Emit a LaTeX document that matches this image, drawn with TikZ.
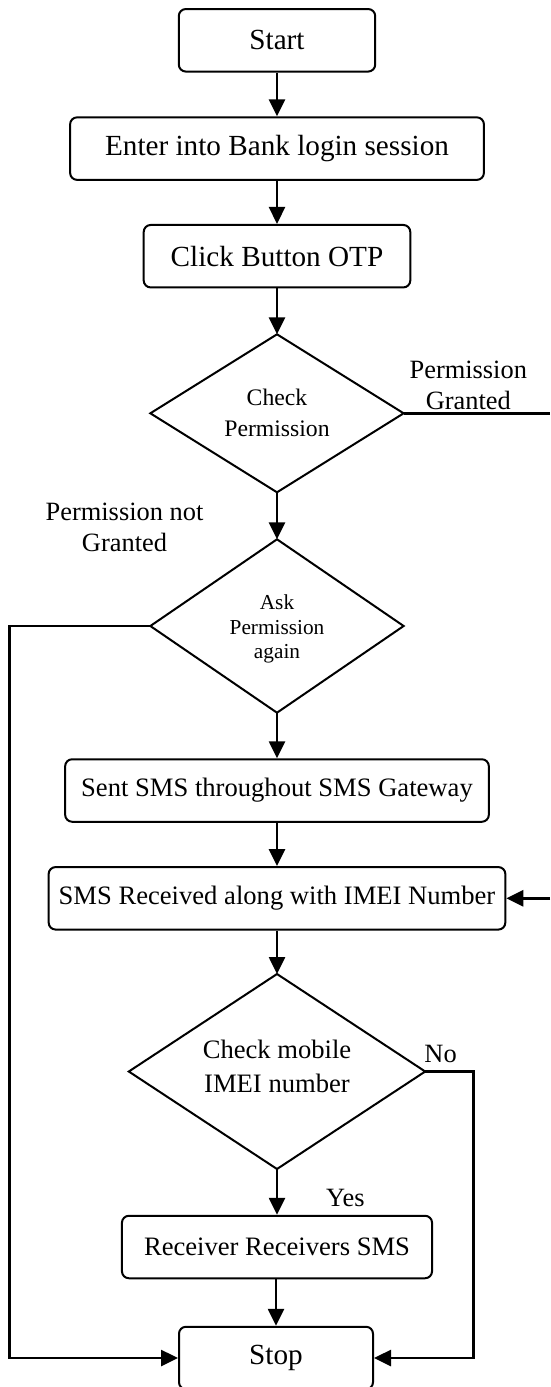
\documentclass[tikz,border=0pt]{standalone}
\usepackage{fontspec}
\setmainfont{Liberation Serif}
\usetikzlibrary{shapes.geometric,arrows.meta}
\begin{document}
\begin{tikzpicture}[x=1pt,y=-1pt,
  box/.style={draw, line width=2pt, rounded corners=7pt, inner sep=0pt, minimum height=62.5pt},
  dec/.style={draw, diamond, line width=2pt, inner sep=0pt, outer sep=0pt},
  arr/.style={line width=2.6pt, -{Triangle[length=17pt,width=16pt]}},
  ln/.style={line width=2.6pt},
  bigtxt/.style={font=\fontsize{29.2}{35}\selectfont},
  midtxt/.style={font=\fontsize{26.6}{32}\selectfont},
  lbl/.style={font=\fontsize{26.4}{31}\selectfont, align=center, inner sep=0pt}
]
\useasboundingbox (0,0) rectangle (550,1387);

% boxes
\node[box, bigtxt, minimum width=196.4pt] (start) at (277,40.3) {Start};
\node[box, bigtxt, minimum width=413.8pt] (enter) at (277,148.6) {Enter into Bank login session};
\node[box, bigtxt, minimum width=266.6pt] (click) at (277,256.2) {Click Button OTP};

% decisions
\node[dec, minimum width=253.3pt, minimum height=158pt] (cp) at (277,413.3) {};
\node[font=\fontsize{23.7}{31.3}\selectfont, align=center, inner sep=0pt] (cpt) at (277,413) {Check\\Permission};
\node[dec, minimum width=253.3pt, minimum height=173.4pt] (ask) at (277,626) {};
\node[font=\fontsize{21.3}{24.5}\selectfont, align=center, inner sep=0pt] (askt) at (277,629) {Ask\\Permission\\again};

\node[box, midtxt, minimum width=423.7pt] (sent) at (277,790.5) {Sent SMS throughout SMS Gateway};
\node[box, midtxt, minimum width=456.7pt] (smsr) at (277,898.3) {SMS Received along with IMEI Number};

\node[dec, minimum width=296.4pt, minimum height=195pt] (cm) at (277,1071.5) {};
\node[font=\fontsize{26.6}{34}\selectfont, align=center, inner sep=0pt] (cmt) at (277,1066) {Check mobile\\IMEI number};

\node[box, midtxt, minimum width=310.1pt] (recv) at (277,1247) {Receiver Receivers SMS};
\node[box, bigtxt, minimum width=194pt] (stop) at (276,1358) {Stop};

% labels
\node[lbl] (pg) at (468.3,385) {Permission\\Granted};
\node[lbl] (png) at (124.5,527) {Permission not\\Granted};
\node[lbl] (no) at (440.6,1054) {No};
\node[lbl] (yes) at (345.4,1198) {Yes};

% coordinates
\coordinate (r1) at (550,413.3);
\coordinate (r2) at (550,898.3);
\coordinate (lc) at (9.5,1358);
\coordinate (rc) at (473.5,1358);

% connectors
\draw[arr] (start) -- (enter);
\draw[arr] (enter) -- (click);
\draw[arr] (click) -- (cp);
\draw[arr] (cp) -- (ask);
\draw[arr] (ask) -- (sent);
\draw[arr] (sent) -- (smsr);
\draw[arr] (smsr) -- (cm);
\draw[arr] (cm) -- (recv);
\draw[arr] (recv.south -| stop.north) -- (stop.north);
\draw[ln] (cp.east) -- (r1);
\draw[arr] (r2) -- (smsr.east);
\draw[arr] (ask.west) -| (lc) -- (stop.west);
\draw[arr] (cm.east) -| (rc) -- (stop.east);
\end{tikzpicture}
\end{document}
